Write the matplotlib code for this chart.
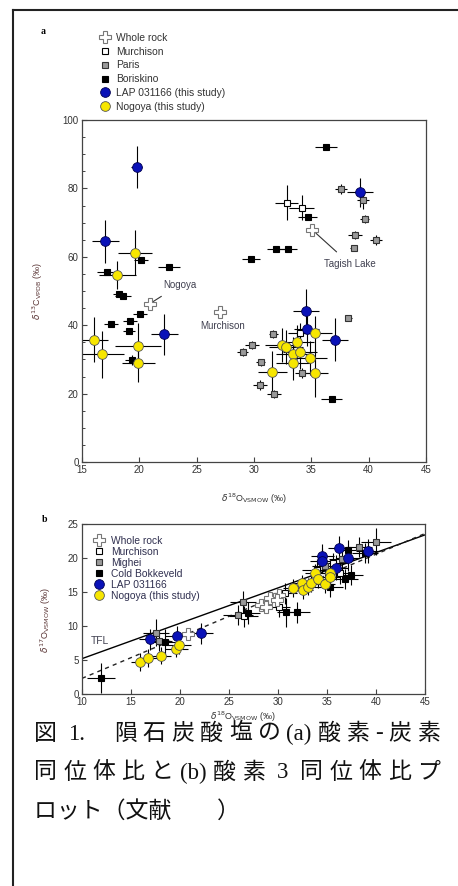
import re
import matplotlib
matplotlib.use('Agg')
import matplotlib.pyplot as plt
from matplotlib.lines import Line2D
import numpy as np

# ---- panel a data: d18O vs d13C (x, y, xerr, yerr) ----
a_whole_x = [20.93, 27.03, 35.1]
a_whole_y = [46.2, 43.9, 67.8]

a_murch_x = [32.84, 34.15, 34.0]
a_murch_y = [75.8, 74.4, 37.6]
a_murch_xe = [1.0, 1.1, 1.0]
a_murch_ye = [5.1, 3.7, 3.0]

a_paris_x = [37.58, 39.52, 39.67, 38.8, 40.63, 38.69, 38.22, 31.67, 29.84, 29.0, 30.6, 34.2, 30.52, 31.74]
a_paris_y = [79.8, 76.6, 71.0, 66.4, 64.9, 62.7, 42.2, 37.4, 34.2, 32.1, 29.1, 26.1, 22.5, 19.9]
a_paris_xe = [0.5, 0.5, 0.4, 0.6, 0.5, 0.3, 0.3, 0.4, 0.6, 0.5, 0.4, 0.6, 0.6, 0.6]
a_paris_ye = [1.5, 2.5, 1.2, 1.2, 1.5, 0.8, 0.8, 1.2, 1.2, 1.2, 1.0, 1.5, 1.5, 1.2]

a_bor_x = [17.2, 20.14, 22.6, 18.23, 18.55, 17.56, 19.2, 20.03, 19.1, 19.33,
           34.67, 31.91, 32.99, 29.73, 36.76, 36.27]
a_bor_y = [55.5, 59.1, 56.9, 49.1, 48.6, 40.4, 41.2, 43.4, 38.2, 29.8,
           71.7, 62.2, 62.2, 59.5, 18.3, 92.0]
a_bor_xe = [0.9, 0.6, 0.95, 0.5, 0.7, 0.6, 0.6, 0.6, 0.5, 0.6,
            0.8, 0.8, 0.8, 0.8, 0.9, 0.95]
a_bor_ye = [0.8, 0.8, 0.8, 0.6, 0.6, 0.6, 0.6, 0.6, 0.6, 1.5,
            0.8, 0.6, 0.6, 0.6, 0.5, 0.6]

a_lap_x = [19.77, 17.03, 22.18, 39.24, 34.53, 34.59, 37.08]
a_lap_y = [86.3, 64.6, 37.4, 78.9, 44.2, 38.8, 35.7]
a_lap_xe = [0.5, 1.2, 1.2, 1.1, 1.15, 1.1, 1.15]
a_lap_ye = [6.2, 6.3, 6.0, 4.2, 6.5, 5.0, 6.3]

a_nog_x = [19.62, 18.08, 16.05, 16.74, 19.91, 19.91, 35.31, 32.46, 32.78, 33.76,
           33.42, 34.0, 33.42, 34.88, 31.59, 35.31]
a_nog_y = [61.2, 54.7, 35.7, 31.5, 34.0, 28.9, 37.6, 34.2, 33.7, 35.2,
           31.6, 32.3, 29.0, 30.3, 26.4, 25.9]
a_nog_xe = [1.45, 1.6, 1.2, 1.9, 2.0, 1.45, 1.5, 1.5, 1.5, 1.5,
            1.5, 1.5, 1.5, 1.5, 1.25, 1.1]
a_nog_ye = [6.5, 4.0, 6.6, 6.8, 6.5, 5.5, 5.0, 5.0, 5.0, 5.0,
            5.0, 5.0, 5.0, 5.0, 6.0, 7.0]

# ---- panel b data: d18O vs d17O ----
b_whole_x = [20.85, 28.27, 29.2, 30.07, 28.8, 29.9]
b_whole_y = [8.8, 13.1, 14.1, 14.6, 12.8, 13.8]

b_murch_x = [26.5, 30.07, 30.75, 33.95, 35.6, 36.3]
b_murch_y = [11.4, 12.84, 14.8, 18.3, 19.2, 17.75]
b_murch_xe = [1.5, 1.2, 1.2, 1.5, 1.5, 1.5]
b_murch_ye = [1.5, 1.5, 1.5, 1.5, 1.5, 1.5]

b_migh_x = [17.55, 17.9, 26.43, 25.9, 40.0, 38.27, 34.8, 36.5]
b_migh_y = [9.0, 7.8, 13.58, 11.6, 22.4, 21.66, 18.8, 19.8]
b_migh_xe = [1.3, 1.3, 1.3, 1.5, 1.5, 1.3, 1.3, 1.3]
b_migh_ye = [2.0, 1.5, 1.6, 1.5, 2.0, 1.5, 1.5, 1.5]

b_cb_x = [11.94, 18.5, 26.9, 30.8, 31.94, 36.84, 37.4, 35.3, 37.1, 38.88]
b_cb_y = [2.3, 7.7, 11.86, 12.0, 12.0, 16.9, 17.5, 15.8, 21.2, 20.7]
b_cb_xe = [1.45, 1.5, 1.3, 0.9, 1.3, 1.3, 1.3, 1.3, 1.3, 1.3]
b_cb_ye = [2.2, 1.8, 1.6, 2.1, 1.5, 1.5, 1.5, 1.5, 1.5, 1.5]

b_lap_x = [16.97, 19.72, 22.18, 34.52, 34.46, 36.26, 37.1, 35.9, 39.2]
b_lap_y = [8.04, 8.53, 8.92, 20.3, 19.6, 21.5, 19.95, 18.57, 21.0]
b_lap_xe = [1.2, 1.2, 1.2, 1.2, 1.2, 1.2, 1.2, 1.2, 1.2]
b_lap_ye = [1.5, 1.5, 1.5, 1.8, 1.8, 1.8, 1.8, 1.8, 1.8]

b_nog_x = [15.95, 16.7, 18.06, 19.63, 19.93, 31.56, 32.4, 32.6, 33.1, 33.4,
           33.78, 34.1, 34.8, 35.3, 35.3]
b_nog_y = [4.75, 5.25, 5.64, 6.67, 7.2, 15.54, 16.27, 15.3, 15.8, 16.3,
           17.75, 16.9, 16.2, 17.84, 17.2]
b_nog_xe = [1.0, 1.0, 1.0, 1.2, 1.2, 1.0, 1.0, 1.0, 1.0, 1.0, 1.0, 1.0, 1.0, 1.0, 1.0]
b_nog_ye = [1.3, 1.3, 1.3, 1.3, 1.3, 1.3, 1.3, 1.3, 1.3, 1.3, 1.3, 1.3, 1.3, 1.3, 1.3]

# reference lines in panel b
tfl_x = [10, 45]
tfl_y = [5.2, 23.4]
dash_x = [10, 45]
dash_y = [2.3, 23.6]

caption = ["図 1.　隕石炭酸塩の(a)酸素-炭素",
           "同位体比と(b)酸素 3 同位体比プ",
           "ロット（文献　　）"]

# ---- styles ----
TXT = '#333333'
LAB = '#5a3535'
st_whole = dict(marker='P', mfc='white', mec='#777777', ms=8, mew=0.8)
st_murch = dict(marker='s', mfc='white', mec='black', ms=4.3, mew=0.8)
st_grey = dict(marker='s', mfc='#9a9a9a', mec='#333333', ms=4.3, mew=0.8)
st_black = dict(marker='s', mfc='black', mec='black', ms=4.3, mew=0.8)
st_lap = dict(marker='o', mfc='#0a12b8', mec='#000050', ms=7, mew=0.6)
st_nog = dict(marker='o', mfc='#f7e600', mec='#555555', ms=7, mew=0.6)


def draw(ax, x, y, xe, ye, st):
    ax.errorbar(x, y, xerr=xe, yerr=ye, fmt='none', ecolor='black',
                elinewidth=0.8, capsize=0, zorder=2)
    ax.plot(x, y, ls='none', zorder=3, **st)


def style_axes(ax):
    for s in ax.spines.values():
        s.set_color('#444444')
        s.set_linewidth(0.9)
    ax.tick_params(direction='in', length=3.5, width=0.8, colors='#444444',
                   labelcolor=TXT, labelsize=7, pad=2.5)
    ax.tick_params(which='minor', direction='in', length=2.5, width=0.7, colors='#444444')


def handle(st, label):
    return Line2D([], [], ls='none', label=label, **st)


fig = plt.figure(figsize=(4.58, 8.86), dpi=100)
plt.rcParams['font.family'] = ['Liberation Sans', 'DejaVu Sans']

# ---- panel a ----
ax1 = fig.add_axes([82 / 458, 1 - 462 / 886, 344 / 458, 342 / 886])
draw(ax1, a_paris_x, a_paris_y, a_paris_xe, a_paris_ye, st_grey)
draw(ax1, a_murch_x, a_murch_y, a_murch_xe, a_murch_ye, st_murch)
draw(ax1, a_bor_x, a_bor_y, a_bor_xe, a_bor_ye, st_black)
draw(ax1, a_lap_x, a_lap_y, a_lap_xe, a_lap_ye, st_lap)
draw(ax1, a_nog_x, a_nog_y, a_nog_xe, a_nog_ye, st_nog)
ax1.plot(a_whole_x, a_whole_y, ls='none', zorder=4, **st_whole)
ax1.set_xlim(15, 45)
ax1.set_ylim(0, 100)
ax1.set_xticks(np.arange(15, 46, 5))
ax1.set_yticks(np.arange(0, 101, 20))
ax1.set_yticks(np.arange(0, 101, 5), minor=True)
style_axes(ax1)
ax1.set_xlabel(r'$\delta^{18}$O$_{\rm VSMOW}$ (‰)', fontsize=6.5, color=TXT)
ax1.xaxis.set_label_coords(0.5, -0.088)
ax1.set_ylabel(r'$\delta^{13}$C$_{\rm VPDB}$ (‰)', fontsize=6.5, color=LAB)
ax1.yaxis.set_label_coords(-0.108, 0.5)

ax1.annotate('Nogoya', xy=(21.2, 46.9), xytext=(23.5, 51.8), fontsize=7, color='#404050',
             ha='center', va='center',
             arrowprops=dict(arrowstyle='-', color='#333333', lw=0.8, shrinkA=5, shrinkB=0))
ax1.annotate('Tagish Lake', xy=(35.4, 66.9), xytext=(38.4, 57.8), fontsize=7, color='#404050',
             ha='center', va='center',
             arrowprops=dict(arrowstyle='-', color='#333333', lw=0.8, shrinkA=5, shrinkB=0))
ax1.text(27.3, 39.9, 'Murchison', fontsize=7, color='#404050', ha='center', va='center')

hs_a = [handle(st_whole, 'Whole rock'), handle(st_murch, 'Murchison'),
        handle(st_grey, 'Paris'), handle(st_black, 'Boriskino'),
        handle(st_lap, 'LAP 031166 (this study)'), handle(st_nog, 'Nogoya (this study)')]
leg_a = ax1.legend(handles=hs_a, loc='upper left', bbox_to_anchor=(0.052, 1.255),
                   frameon=False, fontsize=7.4, borderpad=0, borderaxespad=0,
                   handlelength=1.0, handletextpad=0.6, labelspacing=0.37)
for t in leg_a.get_texts():
    t.set_color(TXT)

# ---- panel b ----
ax2 = fig.add_axes([82 / 458, 1 - 694 / 886, 343 / 458, 170 / 886])
ax2.plot(tfl_x, tfl_y, color='black', lw=1.0, zorder=1)
ax2.plot(dash_x, dash_y, color='#222222', lw=1.0, ls=(0, (3, 3)), zorder=1)
draw(ax2, b_migh_x, b_migh_y, b_migh_xe, b_migh_ye, st_grey)
draw(ax2, b_murch_x, b_murch_y, b_murch_xe, b_murch_ye, st_murch)
draw(ax2, b_cb_x, b_cb_y, b_cb_xe, b_cb_ye, st_black)
ax2.plot(b_whole_x, b_whole_y, ls='none', zorder=3, **st_whole)
draw(ax2, b_lap_x, b_lap_y, b_lap_xe, b_lap_ye, st_lap)
draw(ax2, b_nog_x, b_nog_y, b_nog_xe, b_nog_ye, st_nog)
ax2.set_xlim(10, 45)
ax2.set_ylim(0, 25)
ax2.set_xticks(np.arange(10, 46, 5))
ax2.set_yticks(np.arange(0, 26, 5))
style_axes(ax2)
ax2.set_xlabel(r'$\delta^{18}$O$_{\rm VSMOW}$ (‰)', fontsize=6.5, color=TXT)
ax2.xaxis.set_label_coords(0.468, -0.09)
ax2.set_ylabel(r'$\delta^{17}$O$_{\rm VSMOW}$ (‰)', fontsize=6.5, color=LAB)
ax2.yaxis.set_label_coords(-0.085, 0.435)
ax2.text(10.85, 7.84, 'TFL', fontsize=7.4, color='#404050', ha='left', va='center')

hs_b = [handle(st_whole, 'Whole rock'), handle(st_murch, 'Murchison'),
        handle(st_grey, 'Mighei'), handle(st_black, 'Cold Bokkeveld'),
        handle(st_lap, 'LAP 031166'), handle(st_nog, 'Nogoya (this study)')]
leg_b = ax2.legend(handles=hs_b, loc='upper left', bbox_to_anchor=(0.035, 0.93),
                   frameon=False, fontsize=7.4, borderpad=0, borderaxespad=0,
                   handlelength=1.0, handletextpad=0.62, labelspacing=0.1)
for t in leg_b.get_texts():
    t.set_color('#303050')

# panel letters
fig.text(43 / 458, 1 - 32 / 886, 'a', fontsize=7, fontweight='bold',
         family='Liberation Serif', ha='center', va='center')
fig.text(45 / 458, 1 - 519 / 886, 'b', fontsize=7, fontweight='bold',
         family='Liberation Serif', ha='center', va='center')

# caption: first two lines justified between x0 and x1, last line natural
cap_size = 16.5
cap_font = dict(fontsize=cap_size, family=['Liberation Serif', 'Noto Sans CJK JP'],
                color='#111111', va='center', ha='left')
renderer = fig.canvas.get_renderer()
em = cap_size * 100 / 72
gap_w = {' ': 0.25 * em, '　': 1.0 * em}


def ink_width(s):
    t = fig.text(0, 0, s, **cap_font)
    w = t.get_window_extent(renderer).width
    t.remove()
    return w


x0, x1 = 34, 440
cap_y = [734, 773, 812]
for i, line in enumerate(caption):
    yc = 1 - cap_y[i] / 886
    if i == 2:
        fig.text(x0 / 458, yc, line, **cap_font)
        continue
    toks = re.findall(r'[A-Za-z0-9().\-]+|[ 　]|.', line)
    widths = [gap_w[t] if t in gap_w else ink_width(t) for t in toks]
    n_ink = sum(1 for t in toks if t not in gap_w)
    extra = (x1 - x0 - sum(widths)) / (n_ink - 1)
    x = x0
    for t, w in zip(toks, widths):
        if t in gap_w:
            x += w
            continue
        fig.text(x / 458, yc, t, **cap_font)
        x += w + extra

# outer frame (left and top edges)
fy = 1 - 10 / 886
fx = 13 / 458
fig.add_artist(Line2D([fx, fx], [0, fy], color='#222222', lw=1.5))
fig.add_artist(Line2D([fx, 1], [fy, fy], color='#222222', lw=1.5))

fig.savefig('out.png', dpi=100)
